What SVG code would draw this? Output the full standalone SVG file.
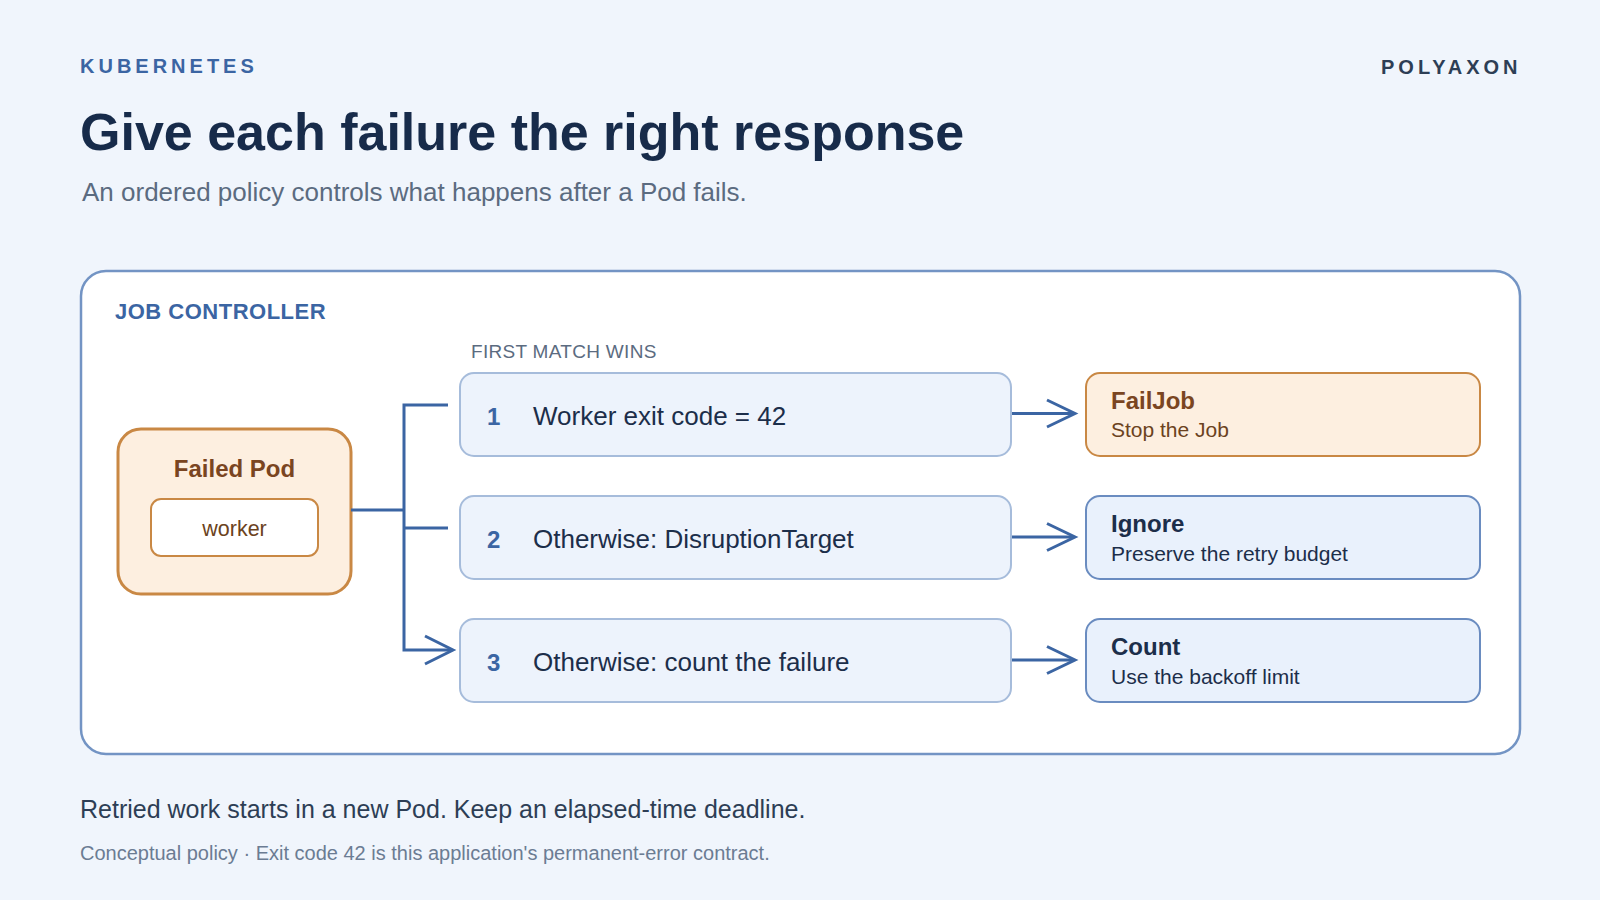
<svg xmlns="http://www.w3.org/2000/svg" width="1600" height="900" viewBox="0 0 1600 900">
<defs>
<style>
text{font-family:"Liberation Sans",Arial,sans-serif}
.eyebrow{font-size:20px;font-weight:700;letter-spacing:4px}
.title{font-size:52px;font-weight:700;fill:#172b4a}
.sub{font-size:26px;fill:#5b6b80}
.sect{font-size:22px;font-weight:700;fill:#3b65a3;letter-spacing:0.5px}
.cap{font-size:19px;fill:#5b6b80;letter-spacing:0.3px}
.rule{fill:#edf3fc;stroke:#a6bcdb;stroke-width:2}
.res{fill:#e9f1fc;stroke:#6a8cc0;stroke-width:2}
.warm{fill:#fdefe0;stroke:#c98844;stroke-width:2}
.num{font-size:24px;font-weight:700;fill:#3b65a3}
.rtxt{font-size:26px;fill:#1c2e4a}
.rhead{font-size:24px;font-weight:700;fill:#1c2e4a}
.rsub{font-size:21px;fill:#1c2e4a}
.whead{fill:#7a4521}
.line{fill:none;stroke:#3b65a3;stroke-width:3;stroke-linejoin:miter}
</style>
</defs>
<rect width="1600" height="900" fill="#f0f5fc"/>
<text class="eyebrow" x="80" y="73" fill="#3b65a3">KUBERNETES</text>
<text class="eyebrow" x="1381" y="74" fill="#2d3e55">POLYAXON</text>
<text class="title" x="80" y="150">Give each failure the right response</text>
<text class="sub" x="82" y="201">An ordered policy controls what happens after a Pod fails.</text>

<g id="job-controller">
<rect x="81" y="271" width="1439" height="483" rx="25" fill="#ffffff" stroke="#7394c4" stroke-width="2.5"/>
<text class="sect" x="115" y="319">JOB CONTROLLER</text>
<text class="cap" x="471" y="358">FIRST MATCH WINS</text>
</g>

<g id="failed-pod">
<rect x="118" y="429" width="233" height="165" rx="23" fill="#fdefe0" stroke="#c98844" stroke-width="3"/>
<text x="234.5" y="477" text-anchor="middle" font-size="24" font-weight="700" fill="#7a4521">Failed Pod</text>
<rect x="151" y="499" width="167" height="57" rx="10" fill="#ffffff" stroke="#c98844" stroke-width="2"/>
<text x="234.5" y="536" text-anchor="middle" font-size="21.5" fill="#6b4220">worker</text>
</g>

<g id="rule-1">
<rect class="rule" x="460" y="373" width="551" height="83" rx="14"/>
<text class="num" x="487" y="425">1</text>
<text class="rtxt" x="533" y="425">Worker exit code = 42</text>
</g>
<g id="rule-2">
<rect class="rule" x="460" y="496" width="551" height="83" rx="14"/>
<text class="num" x="487" y="548">2</text>
<text class="rtxt" x="533" y="548">Otherwise: DisruptionTarget</text>
</g>
<g id="rule-3">
<rect class="rule" x="460" y="619" width="551" height="83" rx="14"/>
<text class="num" x="487" y="671">3</text>
<text class="rtxt" x="533" y="671">Otherwise: count the failure</text>
</g>

<g id="result-failjob">
<rect class="warm" x="1086" y="373" width="394" height="83" rx="14"/>
<text class="rhead whead" x="1111" y="409">FailJob</text>
<text class="rsub" x="1111" y="437" fill="#6b4220" style="fill:#6b4220">Stop the Job</text>
</g>
<g id="result-ignore">
<rect class="res" x="1086" y="496" width="394" height="83" rx="14"/>
<text class="rhead" x="1111" y="532">Ignore</text>
<text class="rsub" x="1111" y="561">Preserve the retry budget</text>
</g>
<g id="result-count">
<rect class="res" x="1086" y="619" width="394" height="83" rx="14"/>
<text class="rhead" x="1111" y="655">Count</text>
<text class="rsub" x="1111" y="684">Use the backoff limit</text>
</g>

<g id="connectors">
<path class="line" d="M351 510 H404"/>
<path class="line" d="M448 405 H404 V650 H452"/>
<path class="line" d="M404 528 H448"/>
<path class="line" d="M425 636 L453 650 L425 664"/>
<path class="line" d="M1012 413.5 H1073"/>
<path class="line" d="M1047 400 L1075 413.5 L1047 427"/>
<path class="line" d="M1012 537 H1073"/>
<path class="line" d="M1047 523.5 L1075 537 L1047 550.5"/>
<path class="line" d="M1012 660 H1073"/>
<path class="line" d="M1047 646.5 L1075 660 L1047 673.5"/>
</g>

<text x="80" y="818" font-size="25" fill="#2d3e55">Retried work starts in a new Pod. Keep an elapsed-time deadline.</text>
<text x="80" y="860" font-size="20" fill="#6b7c93">Conceptual policy · Exit code 42 is this application's permanent-error contract.</text>
</svg>
